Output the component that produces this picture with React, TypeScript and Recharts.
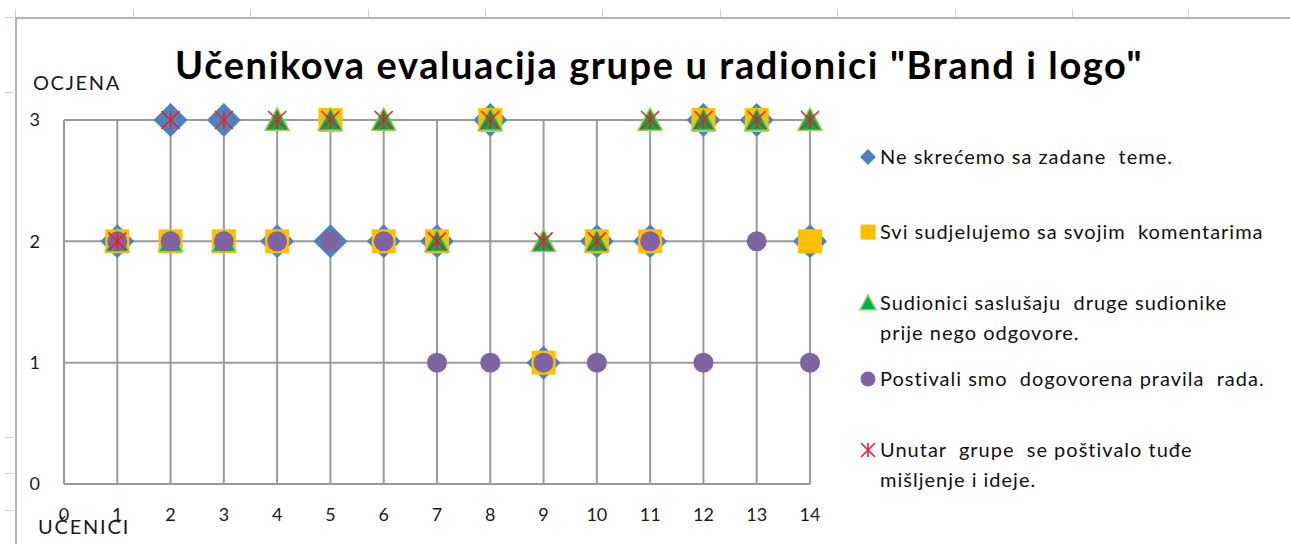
import React from "react";
import {
  ScatterChart,
  Scatter,
  XAxis,
  YAxis,
  CartesianGrid,
} from "recharts";

const students = [1, 2, 3, 4, 5, 6, 7, 8, 9, 10, 11, 12, 13, 14];
const xTicks = [0, 1, 2, 3, 4, 5, 6, 7, 8, 9, 10, 11, 12, 13, 14];
const yTicks = [0, 1, 2, 3];

const temaValues = [2, 3, 3, 2, 2, 2, 2, 3, 1, 2, 2, 3, 3, 2];
const komentariValues = [2, 2, 2, 2, 3, 2, 2, 3, 1, 2, 2, 3, 3, 2];
const saslusajuValues = [2, 2, 2, 3, 3, 3, 2, 3, 2, 2, 3, 3, 3, 3];
const pravilaValues = [2, 2, 2, 2, 2, 2, 1, 1, 1, 1, 2, 1, 2, 1];
const misljenjeValues = [2, 3, 3, 3, 3, 3, 2, 3, 2, 2, 3, 3, 3, 3];

const titleText = 'Učenikova evaluacija grupe u radionici "Brand i logo"';
const yAxisTitle = "OCJENA";
const xAxisTitle = "UČENICI";

const seriesNames = [
  ["Ne skrećemo sa zadane  teme."],
  ["Svi sudjelujemo sa svojim  komentarima"],
  ["Sudionici saslušaju  druge sudionike", "prije nego odgovore."],
  ["Postivali smo  dogovorena pravila  rada."],
  ["Unutar  grupe  se poštivalo tuđe", "mišljenje i ideje."],
];

const toPoints = (vals: number[]) =>
  students.map((s, i) => ({ x: s, y: vals[i] }));

const dataA = toPoints(temaValues);
const dataB = toPoints(komentariValues);
const dataC = toPoints(saslusajuValues);
const dataD = toPoints(pravilaValues);
const dataE = toPoints(misljenjeValues);

const BLUE = "#4F81BD";
const GOLD = "#FFC000";
const GREEN = "#00B050";
const GREEN_EDGE = "#92D050";
const PURPLE = "#8064A2";
const RED = "#E8202A";
const GRID = "#9a9a9a";
const FONT = "Lato, 'Liberation Sans', sans-serif";

const Diamond = ({ cx, cy, r = 17 }: any) => (
  <polygon
    points={`${cx},${cy - r} ${cx + r},${cy} ${cx},${cy + r} ${cx - r},${cy}`}
    fill={BLUE}
  />
);
const Square = ({ cx, cy, s = 24 }: any) => (
  <rect x={cx - s / 2} y={cy - s / 2} width={s} height={s} fill={GOLD} />
);
const Triangle = ({ cx, cy, s = 12 }: any) => (
  <polygon
    points={`${cx},${cy - s} ${cx + s},${cy + s * 0.85} ${cx - s},${cy + s * 0.85}`}
    fill={GREEN}
    stroke={GREEN_EDGE}
    strokeWidth={1.5}
  />
);
const Circle = ({ cx, cy, r = 10 }: any) => (
  <circle cx={cx} cy={cy} r={r} fill={PURPLE} />
);
const Star = ({ cx, cy, r = 9 }: any) => (
  <g stroke={RED} strokeWidth={1.6}>
    <line x1={cx} y1={cy - r} x2={cx} y2={cy + r} />
    <line x1={cx - r} y1={cy - r} x2={cx + r} y2={cy + r} />
    <line x1={cx + r} y1={cy - r} x2={cx - r} y2={cy + r} />
  </g>
);

const legendMarkers = [
  (x: number, y: number) => <Diamond cx={x} cy={y} r={8} />,
  (x: number, y: number) => <Square cx={x} cy={y} s={15} />,
  (x: number, y: number) => <Triangle cx={x} cy={y} s={8} />,
  (x: number, y: number) => <Circle cx={x} cy={y} r={7.5} />,
  (x: number, y: number) => <Star cx={x} cy={y} r={7} />,
];
const legendTops = [157, 232, 303, 379, 450];

const LegendBox = () => (
  <div style={{ position: "absolute", left: 858, top: 140, width: 440, height: 400 }}>
    {seriesNames.map((lines, i) => (
      <div key={i}>
        <svg
          width={20}
          height={20}
          style={{ position: "absolute", left: 0, top: legendTops[i] - 140 - 10 }}
        >
          {legendMarkers[i](10, 10)}
        </svg>
        {lines.map((ln, j) => (
          <div
            key={j}
            style={{
              position: "absolute",
              left: 22,
              top: legendTops[i] - 140 - 13 + j * 30,
              fontFamily: FONT,
              fontSize: 20,
              letterSpacing: 1,
              lineHeight: "24px",
              color: "#111",
              whiteSpace: "pre",
            }}
          >
            {ln}
          </div>
        ))}
      </div>
    ))}
  </div>
);

export default function App() {
  return (
    <div
      style={{
        position: "absolute",
        left: 0,
        top: 0,
        width: 1290,
        height: 544,
        background: "#fff",
        overflow: "hidden",
      }}
    >
      {[15, 133, 250, 368, 485, 602, 720, 837, 955, 1072, 1188].map((x) => (
        <div
          key={"t" + x}
          style={{ position: "absolute", left: x, top: 9, width: 1, height: 8, background: "#c9d3e3" }}
        />
      ))}
      {[17, 92, 437, 473, 510].map((y) => (
        <div
          key={"l" + y}
          style={{ position: "absolute", left: 5, top: y, width: 9, height: 1, background: "#c9d3e3" }}
        />
      ))}
      <div
        style={{
          position: "absolute",
          left: 15,
          top: 17,
          width: 1290,
          height: 540,
          borderLeft: "2px solid #b4b4b4",
          borderTop: "2px solid #b4b4b4",
        }}
      />
      <ScatterChart
        width={1290}
        height={544}
        margin={{ top: 120, right: 480, bottom: 0, left: 24 }}
        style={{ position: "absolute", left: 0, top: 0 }}
      >
        <CartesianGrid stroke={GRID} strokeWidth={2} />
        <XAxis
          type="number"
          dataKey="x"
          domain={[0, 14]}
          ticks={xTicks}
          interval={0}
          height={60}
          tickLine={false}
          tickSize={0}
          tickMargin={24}
          axisLine={{ stroke: GRID, strokeWidth: 2 }}
          tick={{ fontFamily: FONT, fontSize: 18, fill: "#1a1a1a" }}
        />
        <YAxis
          type="number"
          dataKey="y"
          domain={[0, 3]}
          ticks={yTicks}
          interval={0}
          width={40}
          tickLine={false}
          tickSize={0}
          tickMargin={24}
          axisLine={{ stroke: GRID, strokeWidth: 2 }}
          tick={{ fontFamily: FONT, fontSize: 18, fill: "#1a1a1a" }}
        />
        <Scatter name={seriesNames[0][0]} data={dataA} shape={<Diamond />} isAnimationActive={false} />
        <Scatter name={seriesNames[1][0]} data={dataB} shape={<Square />} isAnimationActive={false} />
        <Scatter name={seriesNames[2][0]} data={dataC} shape={<Triangle />} isAnimationActive={false} />
        <Scatter name={seriesNames[3][0]} data={dataD} shape={<Circle />} isAnimationActive={false} />
        <Scatter name={seriesNames[4][0]} data={dataE} shape={<Star />} isAnimationActive={false} />
      </ScatterChart>
      <LegendBox />
      <div
        style={{
          position: "absolute",
          left: 175,
          top: 40,
          fontFamily: FONT,
          fontWeight: 700,
          fontSize: 38,
          letterSpacing: 1.6,
          lineHeight: "48px",
          color: "#000",
          whiteSpace: "pre",
        }}
      >
        {titleText}
      </div>
      <div
        style={{
          position: "absolute",
          left: 33,
          top: 70,
          fontFamily: FONT,
          fontSize: 20,
          letterSpacing: 1.6,
          lineHeight: "24px",
          color: "#1a1a1a",
        }}
      >
        {yAxisTitle}
      </div>
      <div
        style={{
          position: "absolute",
          left: 38,
          top: 514,
          fontFamily: FONT,
          fontSize: 20,
          letterSpacing: 1.8,
          lineHeight: "24px",
          color: "#1a1a1a",
        }}
      >
        {xAxisTitle}
      </div>
    </div>
  );
}
